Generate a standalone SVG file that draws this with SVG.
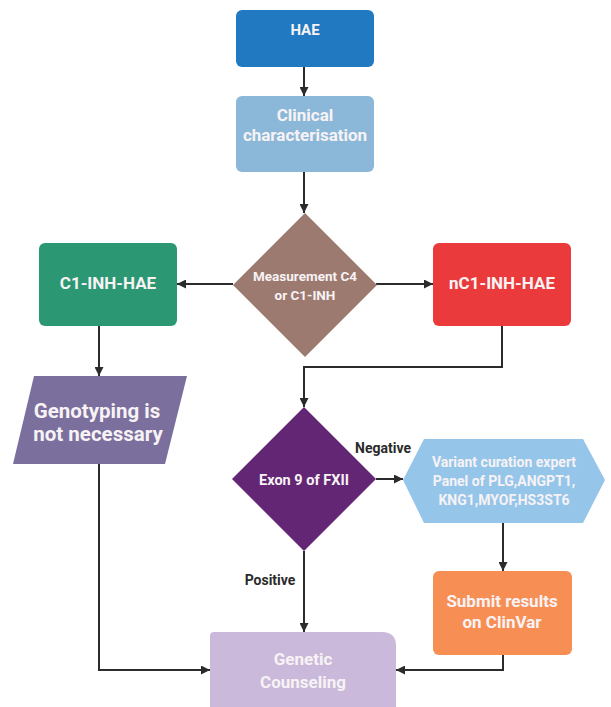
<svg xmlns="http://www.w3.org/2000/svg" width="611" height="707" viewBox="0 0 611 707">
<defs>
<marker id="arr" viewBox="0 0 10 10" refX="10" refY="5" markerWidth="9" markerHeight="9" markerUnits="userSpaceOnUse" orient="auto">
<path d="M0,0 L10,5 L0,10 Z" fill="#2b2b2b"/>
</marker>
<style>
.t{font-family:Roboto,"Liberation Sans",sans-serif;font-weight:bold;fill:#f7f3f5;text-anchor:middle}
.lbl{font-family:Roboto,"Liberation Sans",sans-serif;font-weight:bold;fill:#2b2b2b;text-anchor:middle;font-size:14px}
.c{fill:none;stroke:#2b2b2b;stroke-width:2}
</style>
</defs>
<rect width="611" height="707" fill="#ffffff"/>
<g id="connectors">
<line class="c" x1="304" y1="67" x2="304" y2="96" marker-end="url(#arr)"/>
<line class="c" x1="304" y1="172" x2="304" y2="213" marker-end="url(#arr)"/>
<line class="c" x1="233" y1="284" x2="177" y2="284" marker-end="url(#arr)"/>
<line class="c" x1="376" y1="284" x2="433" y2="284" marker-end="url(#arr)"/>
<line class="c" x1="99" y1="326" x2="99" y2="376" marker-end="url(#arr)"/>
<polyline class="c" points="502,326 502,367 304,367 304,407" marker-end="url(#arr)"/>
<line class="c" x1="376" y1="479" x2="403" y2="479" marker-end="url(#arr)"/>
<line class="c" x1="304" y1="551" x2="304" y2="632" marker-end="url(#arr)"/>
<line class="c" x1="503" y1="523" x2="503" y2="571" marker-end="url(#arr)"/>
<polyline class="c" points="99,464 99,670 210,670" marker-end="url(#arr)"/>
<polyline class="c" points="503,655 503,670 396,670" marker-end="url(#arr)"/>
<text class="lbl" x="383" y="453">Negative</text>
<text class="lbl" x="270" y="585">Positive</text>
</g>
<g id="hae">
<rect x="236" y="10" width="138" height="57" rx="6" fill="#2079c1"/>
<text class="t" x="305" y="35" font-size="15">HAE</text>
</g>
<g id="clinical">
<rect x="236" y="96" width="138" height="76" rx="6" fill="#8bb8d9"/>
<text class="t" x="305" y="121" font-size="17">Clinical</text>
<text class="t" x="305" y="141" font-size="17">characterisation</text>
</g>
<g id="measurement">
<polygon points="305,213 377,285 305,357 233,285" fill="#9d7a70"/>
<text class="t" x="305" y="281" font-size="13.5">Measurement C4</text>
<text class="t" x="305" y="300" font-size="13.5">or C1-INH</text>
</g>
<g id="c1inh">
<rect x="39" y="243" width="138" height="83" rx="6" fill="#2b9873"/>
<text class="t" x="108" y="289" font-size="17">C1-INH-HAE</text>
</g>
<g id="nc1inh">
<rect x="433" y="243" width="138" height="83" rx="6" fill="#ea3a3b"/>
<text class="t" x="502" y="289" font-size="17">nC1-INH-HAE</text>
</g>
<g id="genotyping">
<polygon points="34,376 187,376 165,464 13,464" fill="#7b6f9e"/>
<text class="t" x="97" y="418" font-size="20.5">Genotyping is</text>
<text class="t" x="98" y="441" font-size="20.5">not necessary</text>
</g>
<g id="exon9">
<polygon points="304,407 376,479 304,551 232,479" fill="#632674"/>
<text class="t" x="304" y="485" font-size="14.5">Exon 9 of FXII</text>
</g>
<g id="panel">
<polygon points="424,439 583,439 605,480 583,523 424,523 403,480" fill="#96c5ea"/>
<text class="t" x="504" y="467" font-size="14">Variant curation expert</text>
<text class="t" x="504" y="486" font-size="14">Panel of PLG,ANGPT1,</text>
<text class="t" x="504" y="505" font-size="14">KNG1,MYOF,HS3ST6</text>
</g>
<g id="clinvar">
<rect x="433" y="571" width="139" height="84" rx="6" fill="#f78f55"/>
<text class="t" x="502" y="607" font-size="17">Submit results</text>
<text class="t" x="502" y="628" font-size="17">on ClinVar</text>
</g>
<g id="counseling">
<path d="M214,632 H382 Q396,632 396,646 V707 H210 V636 Q210,632 214,632 Z" fill="#cab9da"/>
<text class="t" x="303" y="665" font-size="17" fill="#f1ecf4">Genetic</text>
<text class="t" x="303" y="688" font-size="17">Counseling</text>
</g>
</svg>
